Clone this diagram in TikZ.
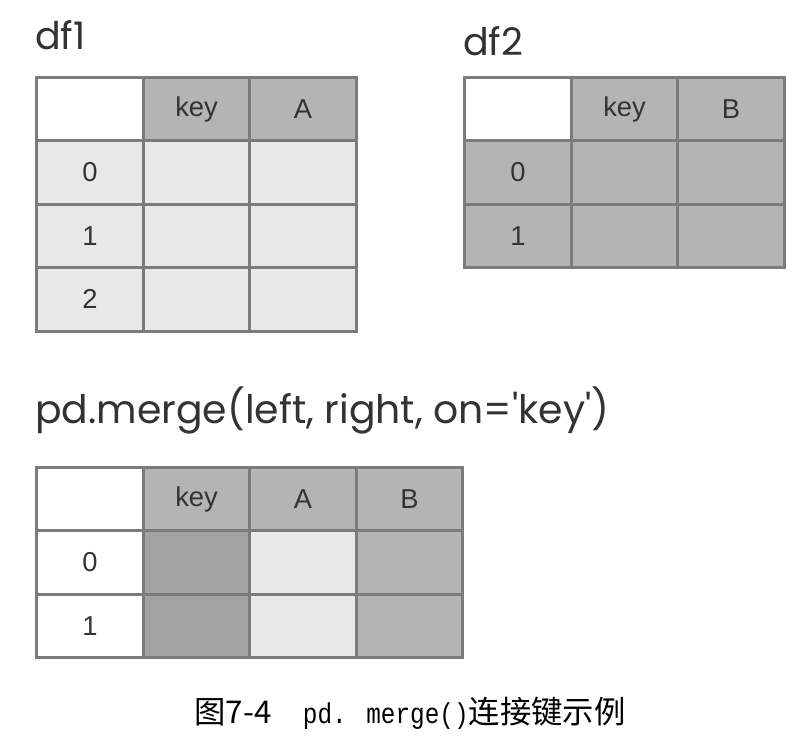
\documentclass[tikz,border=0pt]{standalone}
\usepackage{fontspec}
\setmainfont{Liberation Sans}
\newfontfamily\titlefont{Poppins}
\newfontfamily\cjk{Noto Sans CJK SC}
\newfontfamily\capmono[FakeStretch=0.85]{Liberation Mono}
\usetikzlibrary{positioning}

\definecolor{gridline}{HTML}{7B7B7B}
\definecolor{lightcell}{HTML}{E8E8E8}
\definecolor{midcell}{HTML}{B4B4B4}
\definecolor{darkcell}{HTML}{A2A2A2}
\definecolor{inktext}{HTML}{333333}

\begin{document}
\begin{tikzpicture}
  [x=0.75pt, y=-0.75pt, node distance=0pt,
   cell/.style={draw=gridline, line width=2.25pt, outer sep=0pt, inner sep=0pt,
     minimum width=79.9pt, minimum height=47.6pt, text=inktext,
     font=\fontsize{20.5}{20.5}\selectfont},
   blank/.style={cell, fill=white},
   light/.style={cell, fill=lightcell},
   mid/.style={cell, fill=midcell},
   dark/.style={cell, fill=darkcell},
   title/.style={anchor=base west, inner sep=0pt, text=inktext,
     font=\titlefont\fontsize{28.5}{28.5}\selectfont}]

  \useasboundingbox[fill=white] (0,0) rectangle (804,740);

  % df1
  \node[title] (df1 title) at (35,49) {df1};
  \node[blank]              (d1h0) at (90,109) {};
  \node[mid, right=of d1h0] (d1hk) {key};
  \node[mid, right=of d1hk] (d1ha) {A};
  \foreach \i/\prev in {0/d1h0, 1/d1r0, 2/d1r1} {
    \node[light, below=of \prev] (d1r\i) {\i};
    \node[light, right=of d1r\i] (d1k\i) {};
    \node[light, right=of d1k\i] (d1a\i) {};
  }

  % df2
  \node[title] (df2 title) at (463,55) {df2};
  \node[blank]              (d2h0) at (518,109) {};
  \node[mid, right=of d2h0] (d2hk) {key};
  \node[mid, right=of d2hk] (d2hb) {B};
  \foreach \i/\prev in {0/d2h0, 1/d2r0} {
    \node[mid, below=of \prev]   (d2r\i) {\i};
    \node[mid, right=of d2r\i]   (d2k\i) {};
    \node[mid, right=of d2k\i]   (d2b\i) {};
  }

  % merged result
  \node[title, font=\titlefont\fontsize{29.5}{29.5}\selectfont] (merge title)
    at (35,423) {pd.merge(left, right, on='key')};
  \node[blank]              (mh0) at (90,499) {};
  \node[mid, right=of mh0]  (mhk) {key};
  \node[mid, right=of mhk]  (mha) {A};
  \node[mid, right=of mha]  (mhb) {B};
  \foreach \i/\prev in {0/mh0, 1/mr0} {
    \node[blank, below=of \prev] (mr\i) {\i};
    \node[dark, right=of mr\i]   (mk\i) {};
    \node[light, right=of mk\i]  (ma\i) {};
    \node[mid, right=of ma\i]    (mb\i) {};
  }

  % caption
  \node[inner sep=0pt, font=\cjk\fontsize{23.5}{23.5}\selectfont] (caption) at (410,713)
    {图7-4\hspace{1em}{\capmono\fontsize{21.5}{21.5}\selectfont pd. merge()}连接键示例};
\end{tikzpicture}
\end{document}
